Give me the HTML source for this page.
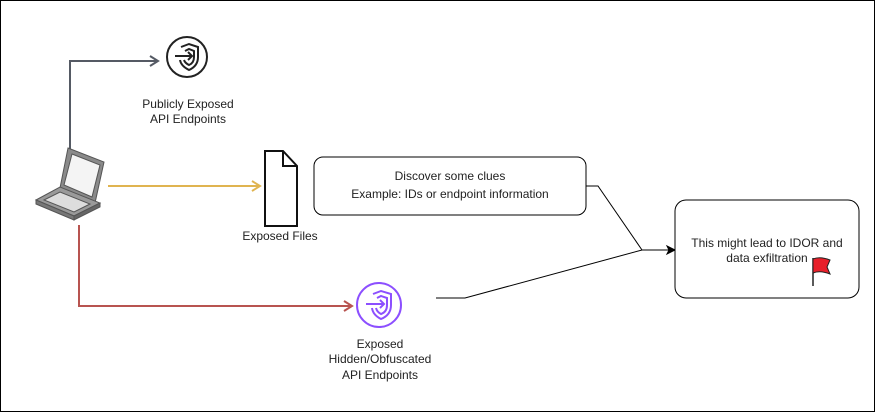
<!DOCTYPE html>
<html><head><style>
html,body{margin:0;padding:0;background:#fff}
svg{display:block}
text{font-family:"Liberation Sans",Arial,sans-serif;font-size:12px;fill:#222}
</style></head><body>
<svg width="875" height="412" viewBox="0 0 875 412" xmlns="http://www.w3.org/2000/svg">
<rect x="0.5" y="0.5" width="874" height="411" fill="#fff" stroke="#000"/>
<polyline points="70,150 70,61 156,61" fill="none" stroke="#555a64" stroke-width="2"/>
<polyline points="150,56 158,61 150,66" fill="none" stroke="#555a64" stroke-width="2"/>
<g transform="translate(187,57)" fill="none" stroke="#222" stroke-width="2">
<circle r="20"/>
<path d="M-6,-10 L2,-13 L11,-10 L11,0 Q11,9 2,13 Q-6,9 -7,3"/>
<path d="M-2,-6 L2,-8 L7,-6 L7,0 Q7,6 2,8 Q-2,6 -3,3"/>
<path d="M-12,-1 L5,-1 M1,-5 L5,-1 L1,3"/>
</g>
<text x="188" y="108" text-anchor="middle">Publicly Exposed</text>
<text x="188" y="123" text-anchor="middle">API Endpoints</text>
<g stroke="#555" stroke-width="1">
<polygon points="68,148 104,162 95,203 60,188" fill="#8a8a8a"/>
<polygon points="72,154 100,165 92,197 64,185" fill="#f4f4f4"/>
<polygon points="36,200 60,187 100,203 74,216" fill="#9a9a9a"/>
<polygon points="44,200 60,192 90,204 74,212" fill="#ddd"/>
<polygon points="36,200 74,216 74,220 36,204" fill="#777"/>
<polygon points="74,216 100,203 100,207 74,220" fill="#666"/>
</g>
<line x1="108" y1="186" x2="258" y2="186" stroke="#e0b450" stroke-width="2"/>
<polyline points="252,181 260,186 252,191" fill="none" stroke="#e0b450" stroke-width="2"/>
<path d="M265,151 L283,151 L297,166 L297,226 L265,226 Z" fill="#fff" stroke="#111" stroke-width="2"/>
<path d="M283,151 L283,166 L297,166" fill="none" stroke="#111" stroke-width="2"/>
<text x="280" y="240" text-anchor="middle">Exposed Files</text>
<polyline points="79,225 79,306 350,306" fill="none" stroke="#b85450" stroke-width="2"/>
<polyline points="344,301 352,306 344,311" fill="none" stroke="#b85450" stroke-width="2"/>
<g transform="translate(379,305)" fill="none" stroke="#8c4fff" stroke-width="2">
<circle r="22"/>
<path d="M-6,-11 L2,-14 L12,-11 L12,0 Q12,10 2,14 Q-6,10 -7,3"/>
<path d="M-2,-7 L2,-9 L8,-7 L8,0 Q8,7 2,9 Q-2,7 -3,3"/>
<path d="M-13,-1 L5,-1 M1,-5 L5,-1 L1,3"/>
</g>
<text x="380" y="348" text-anchor="middle">Exposed</text>
<text x="380" y="363" text-anchor="middle">Hidden/Obfuscated</text>
<text x="380" y="379" text-anchor="middle">API Endpoints</text>
<rect x="314" y="157" width="272" height="58" rx="9" fill="#fff" stroke="#000"/>
<text x="450" y="180" text-anchor="middle">Discover some clues</text>
<text x="450" y="198" text-anchor="middle">Example: IDs or endpoint information</text>
<polyline points="586,186 598,186 642,250" fill="none" stroke="#000"/>
<polyline points="436,298 465,298 642,250 670,250" fill="none" stroke="#000"/>
<polygon points="675,250 667,246 669,250 667,254" fill="#000" stroke="#000"/>
<rect x="675" y="200" width="184" height="98" rx="11" fill="#fff" stroke="#000"/>
<text x="767" y="247" text-anchor="middle">This might lead to IDOR and</text>
<text x="767" y="262" text-anchor="middle">data exfiltration</text>
<line x1="813" y1="258" x2="813" y2="286" stroke="#222" stroke-width="1.5"/>
<path d="M813,259 Q820,256 830,260 L827,267 L830,274 Q820,270 813,273 Z" fill="#e8202a" stroke="#222" stroke-width="1"/>
</svg>
</body></html>
